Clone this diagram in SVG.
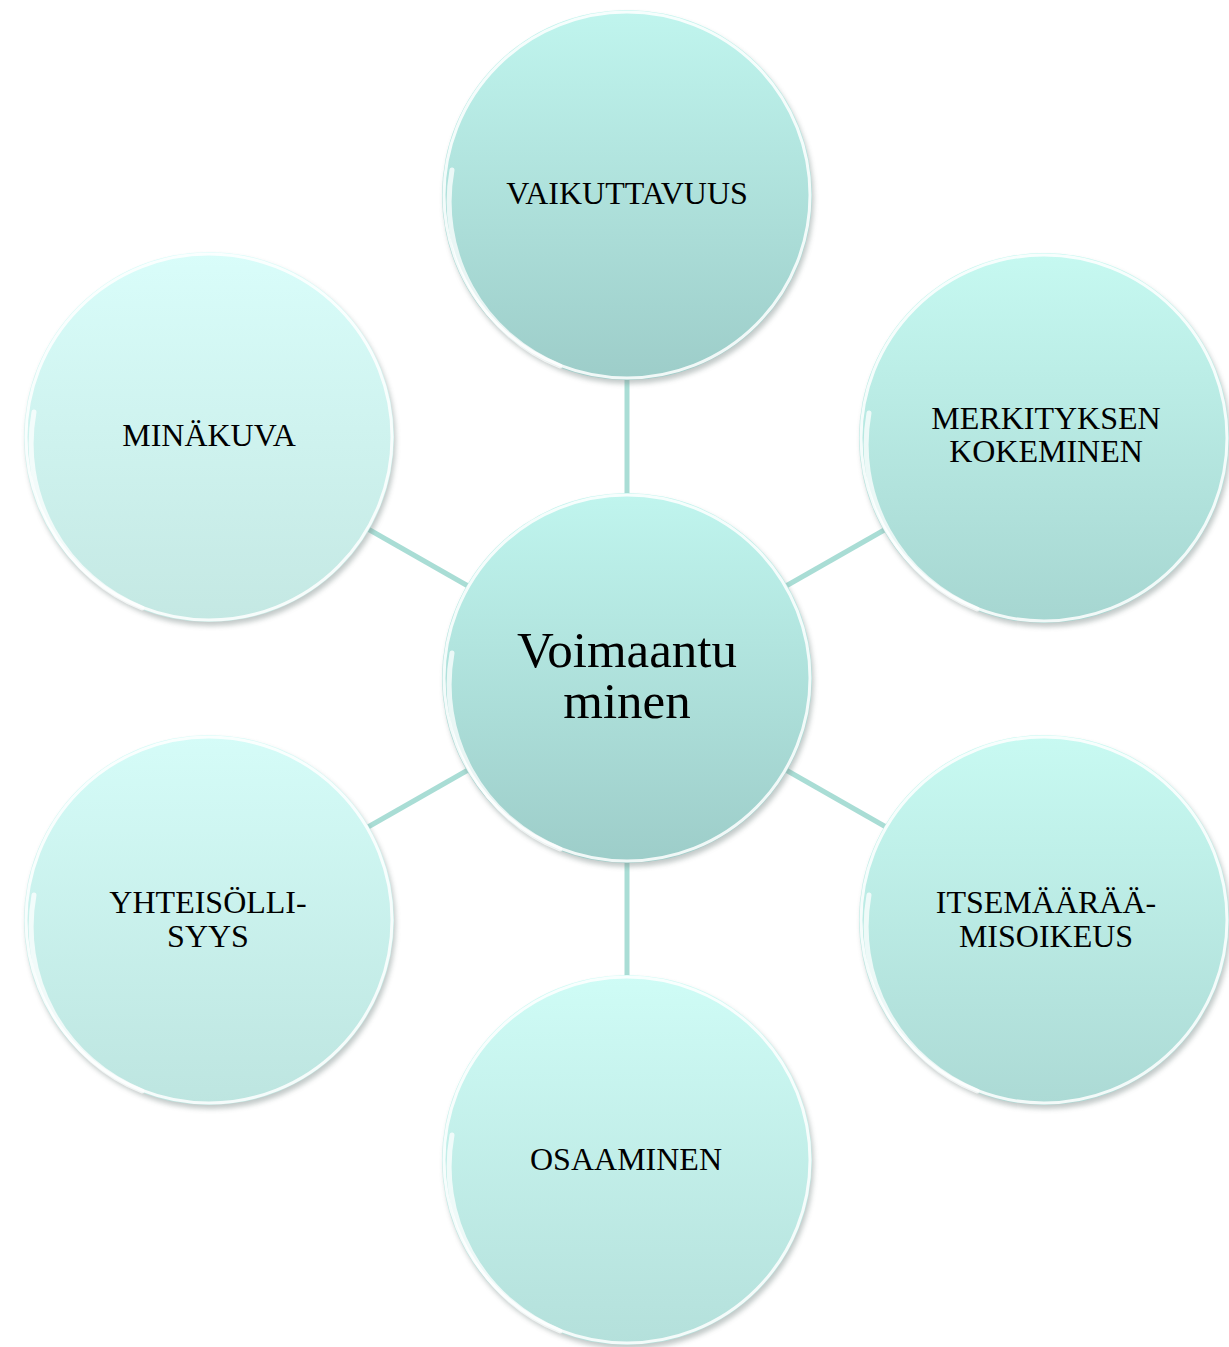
<svg xmlns="http://www.w3.org/2000/svg" width="1229" height="1347" viewBox="0 0 1229 1347">
<style>
.lbl{font-family:"Liberation Serif","Times New Roman",serif;font-size:32px;fill:#000;text-anchor:middle}
.big{font-family:"Liberation Serif","Times New Roman",serif;font-size:51px;fill:#000;text-anchor:middle}
.conn{stroke:#a9ddd5;stroke-width:5;fill:none}
.rim{fill:none;stroke:#ffffff;stroke-width:3;stroke-opacity:0.85}
.hl{fill:none;stroke:#ffffff;stroke-width:5;stroke-opacity:0.75;stroke-linecap:round}
.shadow{fill:#7a8a88;opacity:0.45;filter:url(#blur)}
</style>
<defs>
<filter id="blur" x="-10%" y="-10%" width="120%" height="120%"><feGaussianBlur stdDeviation="2.5"/></filter>
<linearGradient id="gTop" x1="0" y1="0" x2="0" y2="1"><stop offset="0" stop-color="#c0f5ee"/><stop offset="1" stop-color="#9dcdc9"/></linearGradient>
<linearGradient id="gCen" x1="0" y1="0" x2="0" y2="1"><stop offset="0" stop-color="#c0f5ee"/><stop offset="1" stop-color="#9dcdc9"/></linearGradient>
<linearGradient id="gRT" x1="0" y1="0" x2="0" y2="1"><stop offset="0" stop-color="#c6f9f1"/><stop offset="1" stop-color="#a6d6d1"/></linearGradient>
<linearGradient id="gRB" x1="0" y1="0" x2="0" y2="1"><stop offset="0" stop-color="#c8faf2"/><stop offset="1" stop-color="#acdad5"/></linearGradient>
<linearGradient id="gB" x1="0" y1="0" x2="0" y2="1"><stop offset="0" stop-color="#cffcf6"/><stop offset="1" stop-color="#b4e0db"/></linearGradient>
<linearGradient id="gLB" x1="0" y1="0" x2="0" y2="1"><stop offset="0" stop-color="#d5fcf8"/><stop offset="1" stop-color="#bde5e0"/></linearGradient>
<linearGradient id="gLT" x1="0" y1="0" x2="0" y2="1"><stop offset="0" stop-color="#d9fdfa"/><stop offset="1" stop-color="#c4e8e3"/></linearGradient>
</defs>
<rect width="1229" height="1347" fill="#ffffff"/>
<g id="connectors">
<line class="conn" x1="627" y1="378" x2="627" y2="496"/>
<line class="conn" x1="627" y1="860" x2="627" y2="978"/>
<line class="conn" x1="786" y1="586" x2="886" y2="529"/>
<line class="conn" x1="468" y1="586" x2="368" y2="529"/>
<line class="conn" x1="786" y1="770" x2="886" y2="827"/>
<line class="conn" x1="468" y1="770" x2="368" y2="827"/>
</g>
<g id="node-vaikuttavuus">
<circle class="shadow" cx="629" cy="199" r="185"/>
<circle cx="627" cy="195" r="185" fill="url(#gTop)"/>
<circle class="rim" cx="627" cy="195" r="183"/>
<path class="hl" d="M 560 366 A 177 177 0 0 1 452 170"/>
<text class="lbl" x="627" y="204">VAIKUTTAVUUS</text>
</g>
<g id="node-merkityksen">
<circle class="shadow" cx="1046" cy="442" r="185"/>
<circle cx="1044" cy="438" r="185" fill="url(#gRT)"/>
<circle class="rim" cx="1044" cy="438" r="183"/>
<path class="hl" d="M 977 609 A 177 177 0 0 1 869 413"/>
<text class="lbl" x="1046" y="429">MERKITYKSEN</text>
<text class="lbl" x="1046" y="462">KOKEMINEN</text>
</g>
<g id="node-itsemaaraamisoikeus">
<circle class="shadow" cx="1046" cy="924" r="185"/>
<circle cx="1044" cy="920" r="185" fill="url(#gRB)"/>
<circle class="rim" cx="1044" cy="920" r="183"/>
<path class="hl" d="M 977 1091 A 177 177 0 0 1 869 895"/>
<text class="lbl" x="1046" y="913">ITSEMÄÄRÄÄ-</text>
<text class="lbl" x="1046" y="947">MISOIKEUS</text>
</g>
<g id="node-osaaminen">
<circle class="shadow" cx="629" cy="1164" r="185"/>
<circle cx="627" cy="1160" r="185" fill="url(#gB)"/>
<circle class="rim" cx="627" cy="1160" r="183"/>
<path class="hl" d="M 560 1331 A 177 177 0 0 1 452 1135"/>
<text class="lbl" x="626" y="1170">OSAAMINEN</text>
</g>
<g id="node-yhteisollisyys">
<circle class="shadow" cx="211" cy="924" r="185"/>
<circle cx="209" cy="920" r="185" fill="url(#gLB)"/>
<circle class="rim" cx="209" cy="920" r="183"/>
<path class="hl" d="M 142 1091 A 177 177 0 0 1 34 895"/>
<text class="lbl" x="208" y="913">YHTEISÖLLI-</text>
<text class="lbl" x="208" y="947">SYYS</text>
</g>
<g id="node-minakuva">
<circle class="shadow" cx="211" cy="441" r="185"/>
<circle cx="209" cy="437" r="185" fill="url(#gLT)"/>
<circle class="rim" cx="209" cy="437" r="183"/>
<path class="hl" d="M 142 608 A 177 177 0 0 1 34 412"/>
<text class="lbl" x="209" y="446">MINÄKUVA</text>
</g>
<g id="node-voimaantuminen">
<circle class="shadow" cx="629" cy="682" r="185"/>
<circle cx="627" cy="678" r="185" fill="url(#gCen)"/>
<circle class="rim" cx="627" cy="678" r="183"/>
<path class="hl" d="M 560 849 A 177 177 0 0 1 452 653"/>
<text class="big" x="627" y="667">Voimaantu</text>
<text class="big" x="627" y="718">minen</text>
</g>
</svg>
